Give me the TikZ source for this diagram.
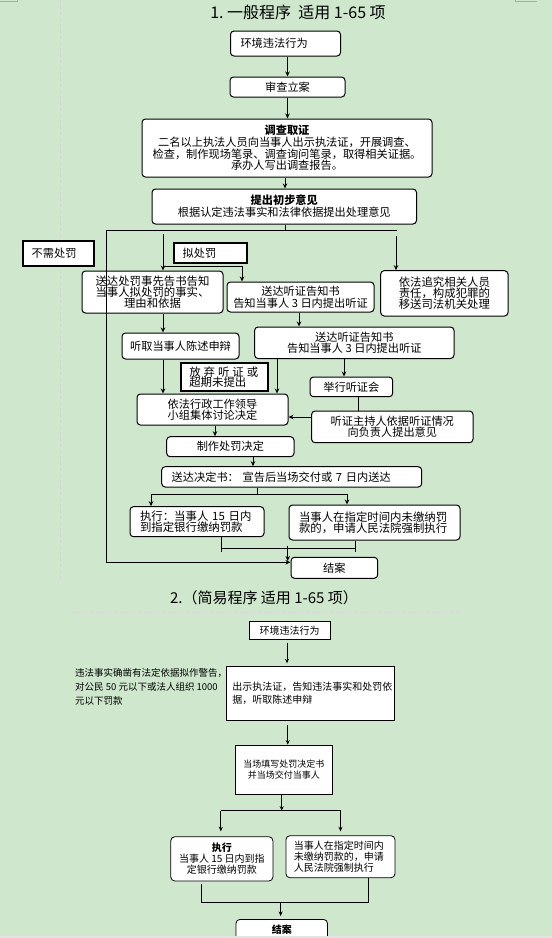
\documentclass[tikz,border=0pt]{standalone}
\usepackage{fontspec}
\setmainfont{Noto Sans CJK SC}
\usetikzlibrary{arrows.meta,calc}
\definecolor{bgc}{RGB}{206,231,205}
\newcommand{\fsA}{\fontsize{11.2}{11.2}\selectfont}
\newcommand{\fsB}{\fontsize{10}{10.8}\selectfont}
\tikzset{
  rbox/.style={draw, fill=white, rounded corners=3.5pt, line width=1pt, inner sep=0pt, align=center, font=\fsA},
  sbox/.style={draw, fill=white, line width=1.8pt, inner ysep=0pt, align=left, font=\fsA},
  tbox/.style={draw, fill=white, line width=0.8pt, inner sep=0pt, align=center, font=\fsB},
  arr/.style={-{Stealth[length=5pt,width=4.5pt]}, line width=1pt},
  arrb/.style={-{Stealth[length=4.5pt,width=4pt]}, line width=0.9pt},
  ln/.style={line width=1pt},
  lnb/.style={line width=0.9pt},
}
\begin{document}
\begin{tikzpicture}[x=1pt,y=-1pt]
\fill[bgc] (0,0) rectangle (552,938);
\useasboundingbox (0,0) rectangle (552,938);
% page marks
\draw[gray!65, line width=0.8pt] (0,1) -- (17.3,1) -- (17.3,0);
\draw[gray!65, line width=0.8pt] (515.3,0) -- (515.3,1.5) -- (537,1.5);
\draw[gray!35, dashed, line width=0.6pt] (60,0) -- (60,580);
\draw[gray!30, dashed, line width=0.6pt] (72,612.3) -- (461,612.3);
% ---------- Part 1 ----------
\node[font=\fontsize{16}{16}\selectfont] (t1) at (298,12.5) {1.\ 一般程序\ \ 适用 1-65 项};
\node[rbox, minimum width=110pt, minimum height=25pt, inner xsep=10pt, text width=90pt, align=left] (n1) at (285.5,43.5) {环境违法行为};
\node[rbox, minimum width=115pt, minimum height=20pt] (n2) at (287.5,87) {审查立案};
\node[rbox, minimum width=290pt, minimum height=58pt, font=\fontsize{11.2}{11.7}\selectfont] (n3) at (287,148) {\textbf{调查取证}\\二名以上执法人员向当事人出示执法证，开展调查、\\检查，制作现场笔录、调查询问笔录，取得相关证据。\\承办人写出调查报告。};
\node[rbox, minimum width=264.5pt, minimum height=35pt, font=\fontsize{11.2}{12}\selectfont] (n4) at (284.25,206.5) {\textbf{提出初步意见}\\根据认定违法事实和法律依据提出处理意见};
\node[sbox, minimum width=71pt, minimum height=25pt, inner xsep=8.7pt, text width=53.6pt] (nb) at (58.5,253.5) {不需处罚};
\node[sbox, minimum width=73pt, minimum height=20pt, inner xsep=8.7pt, text width=55.6pt] (nn) at (210.5,253) {拟处罚};
\node[rbox, minimum width=141pt, minimum height=42pt, font=\fontsize{11.4}{10.6}\selectfont] (n5) at (152.5,292) {送达处罚事先告书告知\\当事人拟处罚的事实、\\理由和依据};
\node[rbox, minimum width=147pt, minimum height=30pt, font=\fontsize{11.2}{12}\selectfont] (n6) at (300.5,297) {送达听证告知书\\告知当事人 3 日内提出听证};
\node[rbox, minimum width=127.3pt, minimum height=45.3pt, font=\fontsize{11.4}{10.6}\selectfont] (n7) at (444.35,293.35) {依法追究相关人员\\责任，构成犯罪的\\移送司法机关处理};
\node[rbox, minimum width=117pt, minimum height=26pt] (n8) at (180.5,346) {听取当事人陈述申辩};
\node[rbox, minimum width=199.4pt, minimum height=31.5pt] (n9) at (354.3,342.75) {送达听证告知书\\告知当事人 3 日内提出听证};
\node[sbox, minimum width=87pt, minimum height=28pt, inner xsep=8.3pt, text width=70.4pt, font=\fontsize{11.4}{10.6}\selectfont] (nf) at (224.5,377) {\makebox[69pt]{放\hfill 弃\hfill 听\hfill 证\hfill 或}\\超期未提出};
\node[rbox, minimum width=82.7pt, minimum height=19.7pt] (n10) at (351.35,386.85) {举行听证会};
\node[rbox, minimum width=151pt, minimum height=31pt] (n11) at (212.5,409.5) {依法行政工作领导\\小组集体讨论决定};
\node[rbox, minimum width=161.4pt, minimum height=31.7pt] (n12) at (392.3,426.85) {听证主持人依据听证情况\\向负责人提出意见};
\node[rbox, minimum width=127.3pt, minimum height=20pt] (n13) at (230.35,446.7) {制作处罚决定};
\node[rbox, minimum width=260pt, minimum height=20.3pt, inner xsep=10pt, text width=240pt, align=left] (n14) at (291.7,476.85) {送达决定书：\ 宣告后当场交付或 7 日内送达};
\node[rbox, minimum width=134pt, minimum height=30pt, inner xsep=10pt, text width=114pt, align=left, font=\fontsize{11.4}{10.6}\selectfont] (n15) at (197,521.7) {执行：当事人 15 日内\\到指定银行缴纳罚款};
\node[rbox, minimum width=171pt, minimum height=35pt, inner xsep=10pt, text width=151pt, align=left, font=\fontsize{11.4}{10.7}\selectfont] (n16) at (374.5,522.5) {当事人在指定时间内未缴纳罚\\款的，申请人民法院强制执行};
\node[rbox, minimum width=86.7pt, minimum height=21pt] (n17) at (334.35,567.8) {结案};
% part 1 helper coordinates
\coordinate (j0) at (285,230.7);
\coordinate (jl) at (106,230.7);
\coordinate (jr) at (397,230.7);
\coordinate (a1) at (163,234);
\coordinate (b1) at (163,266.7);
\coordinate (b2) at (242,266.7);
\coordinate (a2) at (396,236);
\coordinate (x299) at (299,0);
\coordinate (x277) at (277,0);
\coordinate (x344) at (344,0);
\coordinate (x358) at (358,0);
\coordinate (x215) at (215,0);
\coordinate (x253) at (253,0);
\coordinate (s1) at (257,494);
\coordinate (x151) at (151,0);
\coordinate (x347) at (347,0);
\coordinate (k1) at (221.7,551.7);
\coordinate (k2) at (355.7,551.7);
\coordinate (h1) at (221.7,548.3);
\coordinate (h2) at (355.7,548.3);
\coordinate (c1) at (287.7,545.7);
\coordinate (c2) at (287.7,561);
% part 1 connectors
\draw[arr] (n1.south -| n2) -- (n2.north);
\draw[arr] (n2.south) -- (n2.south |- n3.north);
\draw[arr] (n3.south -| j0) -- (n4.north -| j0);
\draw[ln] (n4.south -| j0) -- (j0);
\draw[ln] (jl) -- (jr);
\draw[arr] (jl) |- ([yshift=5.5pt]n17.west);
\draw[arr] (a1) -- (a1 |- n5.north);
\draw[arr] (b1) -- (b2) -- (b2 |- n6.north);
\draw[arr] (a2) -- (a2 |- n7.north);
\draw[arr] (n5.south -| a1) -- (n8.north -| a1);
\draw[arr] (n8.south -| a1) -- (n11.north -| a1);
\draw[arr] (n6.south -| x299) -- (n9.north -| x299);
\draw[arr] (n9.south -| x277) -- (n11.north -| x277);
\draw[arr] (n9.south -| x344) -- (n10.north -| x344);
\draw[ln] (n10.south -| x358) -- (n12.north -| x358);
\draw[arr] ([yshift=9.85pt]n12.west) -- ([yshift=9.85pt]n12.west -| n11.east);
\draw[arr] (n11.south -| x215) -- (n13.north -| x215);
\draw[arr] (n13.south -| x253) -- (n14.north -| x253);
\draw[ln] (n14.south -| s1) -- (s1);
\draw[arr] (s1) -| (x151 |- n15.north);
\draw[arr] (s1) -| (x347 |- n16.north);
\draw[ln] (n15.south -| k1) -- (k1);
\draw[ln] (n16.south -| k2) -- (k2);
\draw[ln] (h1) -- (h2);
\draw[arr] (c1) -- (c2);
% ---------- Part 2 ----------
\node[font=\fontsize{15}{15}\selectfont] (t2) at (264,598) {2.（简易程序 适用 1-65 项）};
\node[tbox, minimum width=81pt, minimum height=17.6pt] (m1) at (289.5,630.5) {环境违法行为};
\node[font=\fontsize{9.5}{14}\selectfont, align=left, anchor=west, inner sep=0pt] (side) at (75,687.3) {违法事实确凿有法定依据拟作警告，\\对公民 50 元以下或法人组织 1000\\元以下罚款};
\node[tbox, minimum width=168pt, minimum height=53.3pt, inner xsep=6pt, text width=156pt, align=left, font=\fontsize{10}{13.6}\selectfont] (m2) at (310.4,693.35) {出示执法证，告知违法事实和处罚依\\据，听取陈述申辩};
\node[tbox, minimum width=97.8pt, minimum height=49.3pt, font=\fontsize{9}{10.7}\selectfont] (m3) at (283.8,769.65) {当场填写处罚决定书\\并当场交付当事人};
\node[tbox, rounded corners=4pt, minimum width=102.1pt, minimum height=44.3pt] (m4) at (221.85,858.85) {\textbf{执行}\\当事人 15 日内到指\\定银行缴纳罚款};
\node[tbox, rounded corners=4pt, minimum width=109.1pt, minimum height=42pt, inner xsep=8pt, text width=93.1pt, align=left] (m5) at (340.45,856.7) {当事人在指定时间内\\未缴纳罚款的，申请\\人民法院强制执行};
\node[tbox, rounded corners=4pt, minimum width=91.5pt, minimum height=21pt, anchor=north] (m6) at (281.75,919) {\textbf{结案}};
% part 2 helper coordinates
\coordinate (y287) at (287,0);
\coordinate (y2877) at (287.7,0);
\coordinate (d1) at (281.7,810.7);
\coordinate (d2) at (220.8,810.7);
\coordinate (d3) at (340.5,810.7);
\coordinate (e1) at (201.4,902.3);
\coordinate (e2) at (368,902.3);
\coordinate (e3) at (280.6,902.3);
% part 2 connectors
\draw[arrb] ([yshift=-3pt]m1.south -| y287) -- ([yshift=3pt]m2.north -| y287);
\draw[arrb] ([yshift=-5pt]m2.south -| y2877) -- (m3.north -| y2877);
\draw[arrb] (m3.south -| d1) -- (d1);
\draw[lnb] (d2) -- (d3);
\draw[arrb] (d2) -- ([yshift=5pt]m4.north -| d2);
\draw[arrb] (d3) -- ([yshift=4pt]m5.north -| d3);
\draw[lnb] ([yshift=-3pt]m4.south -| e1) -- (e1) -- (e2) -- (m5.south -| e2);
\draw[arrb] (e3) -- ([yshift=3pt]m6.north -| e3);
\fill[gray!22] (0,935.7) rectangle (552,938);
\end{tikzpicture}
\end{document}
